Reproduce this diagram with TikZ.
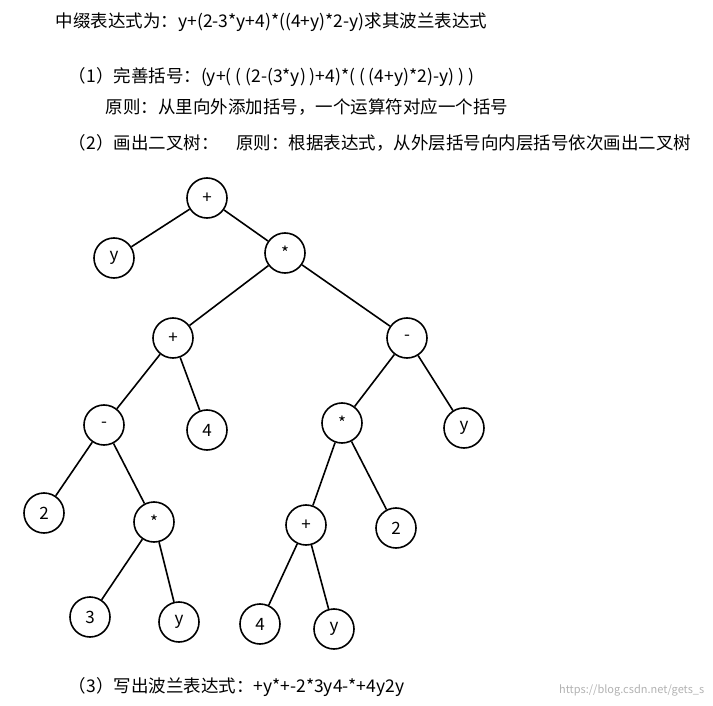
\documentclass[tikz,border=0pt]{standalone}
\usepackage{fontspec}
\setmainfont{Noto Sans CJK SC}
\begin{document}
\begin{tikzpicture}[x=1pt,y=-1pt,
  nd/.style={circle,draw,line width=1.6pt,minimum size=40pt,inner sep=0pt,font=\fontsize{17}{17}\selectfont},
  txt/.style={anchor=west,inner sep=0pt,font=\fontsize{17.5}{20}\selectfont},
  every path/.style={line width=1.6pt}]
\path[use as bounding box] (0,0) rectangle (713,706);
\node[txt] (t1) at (55,22) {中缀表达式为：y+(2-3*y+4)*((4+y)*2-y)求其波兰表达式};
\node[txt] (t2) at (68,77) {（1）完善括号：(y+( ( (2-(3*y) )+4)*( ( (4+y)*2)-y) ) )};
\node[txt] (t3) at (105,107) {原则：从里向外添加括号，一个运算符对应一个括号};
\node[txt] (t4) at (68,143) {（2）画出二叉树：\quad 原则：根据表达式，从外层括号向内层括号依次画出二叉树};
\node[txt] (t5) at (68,687) {（3）写出波兰表达式：+y*+-2*3y4-*+4y2y};
\node[anchor=east,inner sep=0pt,text=gray!60,font=\fontsize{11}{11}\selectfont] (wm) at (705,690) {https://blog.csdn.net/gets\_s};
\node[nd] (a) at (207,198) {+};
\node[nd] (b) at (114,258) {y};
\node[nd] (c) at (285,253) {*};
\node[nd] (d) at (173,338) {+};
\node[nd] (e) at (407,338) {-};
\node[nd] (f) at (104,425) {-};
\node[nd] (g) at (207,430) {4};
\node[nd] (h) at (342,423) {*};
\node[nd] (i) at (464,428) {y};
\node[nd] (j) at (44,513) {2};
\node[nd] (k) at (154,522) {*};
\node[nd] (l) at (306,525) {+};
\node[nd] (m) at (396,528) {2};
\node[nd] (n) at (90,617) {3};
\node[nd] (o) at (179,622) {y};
\node[nd] (p) at (260,624) {4};
\node[nd] (q) at (334,629) {y};
\draw (a)--(b); \draw (a)--(c); \draw (c)--(d); \draw (c)--(e);
\draw (d)--(f); \draw (d)--(g); \draw (e)--(h); \draw (e)--(i);
\draw (f)--(j); \draw (f)--(k); \draw (h)--(l); \draw (h)--(m);
\draw (k)--(n); \draw (k)--(o); \draw (l)--(p); \draw (l)--(q);
\end{tikzpicture}
\end{document}
